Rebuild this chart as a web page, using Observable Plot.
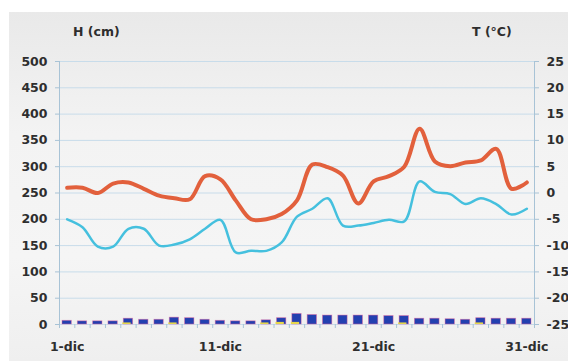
<!DOCTYPE html>
<html><head><meta charset="utf-8">
<script src="https://cdn.jsdelivr.net/npm/d3@7"></script>
<script src="https://cdn.jsdelivr.net/npm/@observablehq/plot@0.6"></script>
<style>
html,body{margin:0;padding:0;background:#fff;}
#wrap{position:relative;width:568px;height:361px;overflow:hidden;}
#bg{position:absolute;left:9px;top:12px;right:0;bottom:0;background:linear-gradient(#e9e9e9,#f3f3f3 35%,#f5f5f5 70%,#efefef);}
#head{position:relative;height:45px;font-family:"DejaVu Sans";font-weight:bold;font-size:12.5px;line-height:12px;color:#2e2e2e;}
#head span{position:absolute;top:26px;}
#chart{position:relative;}
#chart svg{display:block;}
</style></head><body>
<div id="wrap"><div id="bg"></div>
<div id="head"><span style="left:73px">H (cm)</span><span style="left:472px">T (°C)</span></div>
<div id="chart"></div></div>
<script>
const days = [1,2,3,4,5,6,7,8,9,10,11,12,13,14,15,16,17,18,19,20,21,22,23,24,25,26,27,28,29,30,31];
const tmax = [1.0,1.0,0.0,1.8,2.0,0.8,-0.5,-1.0,-1.2,3.2,2.6,-1.4,-5.0,-5.0,-4.0,-1.4,5.4,4.9,3.3,-2.0,2.2,3.2,5.0,12.2,6.0,5.1,5.8,6.2,8.4,0.8,2.0];
const tmin = [-5.0,-6.5,-10.2,-10.2,-6.8,-6.8,-10.0,-9.8,-8.8,-6.8,-5.1,-11.3,-11.0,-11.0,-9.4,-4.5,-3.0,-1.0,-6.2,-6.2,-5.7,-5.1,-5.4,2.2,0.2,-0.2,-2.1,-1.0,-2.1,-4.1,-3.0];
const snowH = [7,6,6,6,11,9,9,13,12,9,7,6,6,8,12,20,18,17,17,17,17,16,16,11,11,10,9,12,11,11,11];
const newSnow = [0,0,0,0,3,0,0,3,0,0,0,0,0,3,4,4,0,0,0,0,0,0,3,0,0,0,0,3,0,0,0];
const hTicks = [0,50,100,150,200,250,300,350,400,450,500];
const tTicks = [-25,-20,-15,-10,-5,0,5,10,15,20,25];
const xTickDays = [1,11,21,31];
const xTickLabels = ["1-dic","11-dic","21-dic","31-dic"];

const table = days.map((d,i)=>({day:d, tmax:tmax[i], tmin:tmin[i], h:snowH[i], n:newSnow[i]}));
const hMax = hTicks[hTicks.length-1];
const tLo = tTicks[0], tHi = tTicks[tTicks.length-1];
const tToH = t => (t - tLo) * hMax / (tHi - tLo);
const bounds = days.map(d=>d-0.5).concat([days[days.length-1]+0.5]);
const axisCol = "#a8c3d6";

const chart = Plot.plot({
  width: 568, height: 316,
  marginTop: 16, marginBottom: 37, marginLeft: 59, marginRight: 34,
  style: {background:"transparent", fontFamily:"DejaVu Sans", fontSize:"12.5px", fontWeight:"bold", color:"#2e2e2e", overflow:"visible"},
  x: {domain:[days[0]-0.5, days[days.length-1]+0.5]},
  y: {domain:[0, hMax]},
  marks: [
    Plot.ruleY(hTicks, {stroke:"#c8dcea", strokeWidth:1}),
    Plot.ruleX([days[0]-0.5, days[days.length-1]+0.5], {stroke:axisCol}),
    Plot.axisY(hTicks, {anchor:"left", tickSize:4, tickPadding:8, stroke:axisCol, label:null}),
    Plot.axisY(hTicks, {anchor:"right", tickSize:4, tickPadding:8, stroke:axisCol, label:null,
      tickFormat: h => String(tTicks[hTicks.indexOf(h)])}),
    Plot.axisX(bounds, {anchor:"bottom", tickSize:4, stroke:axisCol, tickFormat: () => "", label:null}),
    Plot.axisX(xTickDays, {anchor:"bottom", tickSize:0, tickPadding:18, label:null,
      tickFormat: d => xTickLabels[xTickDays.indexOf(d)]}),
    Plot.rect(table, {x1:d=>d.day-0.5, x2:d=>d.day+0.5, y1:0, y2:"h", fill:"#2340b0",
      stroke:"#e8609a", strokeWidth:0.8, strokeOpacity:0.55, insetLeft:3, insetRight:3}),
    Plot.rect(table.filter(d=>d.n>0), {x1:d=>d.day-0.5, x2:d=>d.day+0.5, y1:0, y2:"n", fill:"#e6d64a",
      insetLeft:2, insetRight:5}),
    Plot.line(table, {x:"day", y:d=>tToH(d.tmin), stroke:"#45c0de", strokeWidth:2.5, curve:"catmull-rom"}),
    Plot.line(table, {x:"day", y:d=>tToH(d.tmax), stroke:"#e2603c", strokeWidth:4, curve:"catmull-rom"})
  ]
});
document.getElementById("chart").appendChild(chart);
</script>
</body></html>
